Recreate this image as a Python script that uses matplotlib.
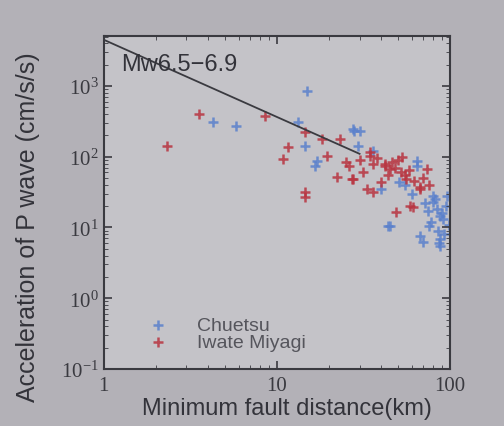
import numpy as np
import matplotlib.pyplot as plt
from matplotlib.ticker import FixedLocator, FixedFormatter

# Chuetsu (blue) points: distance km, acceleration cm/s/s
chuetsu_x = [4.27, 5.8, 14.9, 13.2, 14.5, 16.6, 17, 27.5, 28, 29.5, 51, 64, 64,
             80, 80, 88, 96, 76, 67, 88, 70, 44, 45, 91, 88,
             36, 40, 55, 60, 72, 84, 90, 95, 85, 92, 78, 82, 30, 75, 98, 86]
chuetsu_y = [309, 271, 850, 310, 141, 74, 86, 245, 230, 141, 44, 86, 74,
             23, 28, 14.5, 28, 10.5, 7.6, 6.9, 6.3, 10.5, 10.5, 13, 5.5,
             120, 35, 40, 30, 22, 18, 16, 20, 9, 8, 12, 25, 230, 17, 11, 6]

# Iwate Miyagi (red) points
iwate_x = [2.31, 3.54, 8.5, 11.6, 10.8, 14.5, 14.5, 14.5, 18.2, 19.5, 22.3, 23,
           34.5, 27, 31.5, 35.8, 26, 45, 40, 33, 74, 67, 67, 59, 49, 61, 42, 50, 55,
           38, 42, 46, 48, 52, 44, 56, 62, 36, 30, 53, 58, 70, 76, 25, 34.5, 27.5]
iwate_y = [141, 400, 380, 137, 93, 224, 27, 32, 178, 103, 51, 178,
           103, 49, 61, 32, 74, 67, 44, 35, 67, 37, 35, 20, 16.6, 19.5, 80, 90, 55,
           95, 75, 85, 70, 60, 55, 48, 45, 80, 90, 100, 65, 50, 40, 84, 117, 49]

# regression line end points
line_x = [1, 30]
line_y = [4500, 110]

xticks = [1, 10, 100]
xtick_labels = ['1', '10', '100']

fig = plt.figure(figsize=(5.04, 4.27), dpi=100, facecolor='#b3b1b7')
ax = fig.add_axes([0.206, 0.1335, 0.687, 0.78], facecolor='#c4c3c8')

ax.plot(line_x, line_y, color='#3a3a40', lw=1.3)
ax.scatter(chuetsu_x, chuetsu_y, marker='+', s=45, lw=1.8, color='#5a80cc', alpha=0.85,
           label='Chuetsu')
ax.scatter(iwate_x, iwate_y, marker='+', s=45, lw=1.8, color='#b83440', alpha=0.85,
           label='Iwate Miyagi')

ax.set_xscale('log')
ax.set_yscale('log')
ax.set_xlim(1, 100)
ax.set_ylim(0.1, 5100)
ax.xaxis.set_major_locator(FixedLocator(xticks))
ax.xaxis.set_major_formatter(FixedFormatter(xtick_labels))

ax.tick_params(which='both', direction='in', top=True, right=True, colors='#3a3a40')
ax.tick_params(which='major', length=6, width=1.2)
ax.tick_params(which='minor', length=3)
ax.tick_params(axis='x', pad=5)
for lbl in ax.get_xticklabels() + ax.get_yticklabels():
    lbl.set_family('Liberation Serif')
    lbl.set_fontsize(15)
    lbl.set_color('#3a3a40')
for s in ax.spines.values():
    s.set_color('#3a3a40')
    s.set_linewidth(1.5)

ax.text(0.05, 0.915, 'Mw6.5\u22126.9', transform=ax.transAxes, fontsize=17,
        family='Liberation Sans', color='#33333a', va='center')

ax.set_xlabel('Minimum fault distance(km)', fontsize=17, family='Liberation Sans',
              color='#33333a', labelpad=0)
ax.xaxis.set_label_coords(0.53, -0.085)
ax.set_ylabel('Acceleration of P wave (cm/s/s)', fontsize=18, family='Liberation Sans',
              color='#33333a')
ax.yaxis.set_label_coords(-0.185, 0.43)

leg = ax.legend(loc='lower left', bbox_to_anchor=(0.05, 0.0), frameon=False,
                prop={'family': 'Liberation Sans', 'size': 14}, handletextpad=1.0,
                labelspacing=0.0)
for t in leg.get_texts():
    t.set_color('#55555c')

fig.savefig('out.png', dpi=100, facecolor=fig.get_facecolor())
